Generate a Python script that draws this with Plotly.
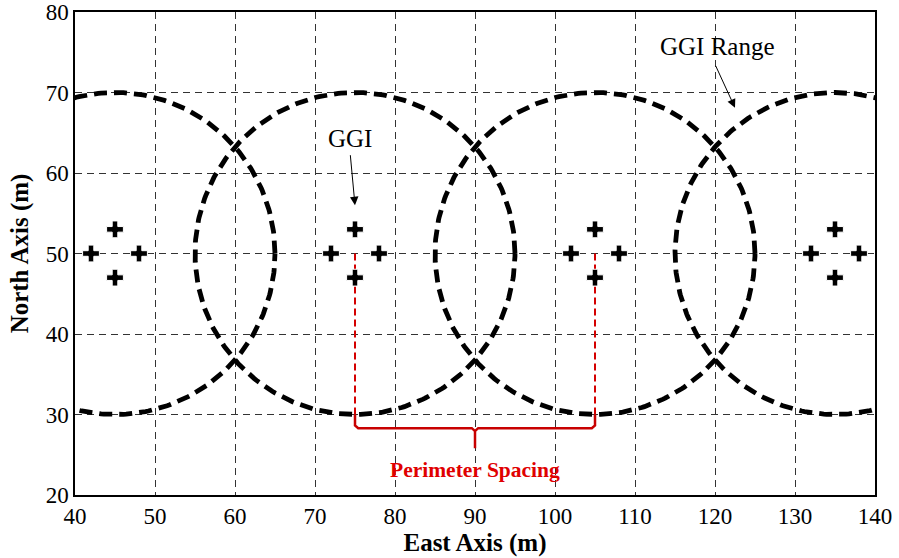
import numpy as np
import plotly.graph_objects as go

# ---- data ----
ggi_centers_x = [45, 75, 105, 135]
ggi_center_y = 50
ggi_range = 20
ggi_offset = 3
spacing_x = [75, 105]
spacing_top = 50
spacing_bottom = 30
brace_y = 28.3
brace_tip_y = 25.8
x_ticks = [40, 50, 60, 70, 80, 90, 100, 110, 120, 130, 140]
y_ticks = [20, 30, 40, 50, 60, 70, 80]

FONT = "Liberation Serif, Times New Roman, serif"
fig = go.Figure()

# GGI range circles
theta = np.linspace(0, 2 * np.pi, 361)
for cx in ggi_centers_x:
    fig.add_trace(go.Scatter(
        x=cx + ggi_range * np.cos(theta),
        y=ggi_center_y + ggi_range * np.sin(theta),
        mode="lines",
        line=dict(color="black", width=4.8, dash="13px,7px"),
        hoverinfo="skip", showlegend=False))

# red spacing lines
for sx in spacing_x:
    fig.add_trace(go.Scatter(
        x=[sx, sx], y=[spacing_top, spacing_bottom],
        mode="lines",
        line=dict(color="#d40000", width=2, dash="7px,4px"),
        hoverinfo="skip", showlegend=False))

# brace
mid = (spacing_x[0] + spacing_x[1]) / 2
bx = [spacing_x[0], spacing_x[0], spacing_x[0] + 0.4, mid - 0.4, mid, mid,
      mid, mid + 0.4, spacing_x[1] - 0.4, spacing_x[1], spacing_x[1]]
by = [spacing_bottom, brace_y + 0.35, brace_y, brace_y, brace_y - 0.35, brace_tip_y,
      brace_y - 0.35, brace_y, brace_y, brace_y + 0.35, spacing_bottom]
fig.add_trace(go.Scatter(
    x=bx, y=by, mode="lines",
    line=dict(color="#c80000", width=2.5),
    hoverinfo="skip", showlegend=False))

# GGI markers
gx, gy = [], []
for cx in ggi_centers_x:
    gx += [cx - ggi_offset, cx + ggi_offset, cx, cx]
    gy += [ggi_center_y, ggi_center_y, ggi_center_y + ggi_offset, ggi_center_y - ggi_offset]
fig.add_trace(go.Scatter(
    x=gx, y=gy, mode="markers",
    marker=dict(symbol="cross", size=14, color="black",
                line=dict(color="white", width=1)),
    cliponaxis=False, hoverinfo="skip", showlegend=False))

# annotations
fig.add_annotation(x=75, y=56.0, ax=74.4, ay=62.4, xref="x", yref="y",
                   axref="x", ayref="y", text="", showarrow=True,
                   arrowhead=2, arrowsize=1.7, arrowwidth=1, arrowcolor="black")
fig.add_annotation(x=74.4, y=64.3, text="GGI", showarrow=False,
                   font=dict(family=FONT, size=25, color="black"))
fig.add_annotation(x=122.5, y=68.1, ax=120.0, ay=73.5, xref="x", yref="y",
                   axref="x", ayref="y", text="", showarrow=True,
                   arrowhead=2, arrowsize=1.7, arrowwidth=1, arrowcolor="black")
fig.add_annotation(x=120.3, y=75.7, text="GGI Range", showarrow=False,
                   font=dict(family=FONT, size=25, color="black"))
fig.add_annotation(x=mid, y=23.1, text="<b>Perimeter Spacing</b>", showarrow=False,
                   font=dict(family=FONT, size=21.5, color="#e00000"))

grid = dict(showgrid=True, gridcolor="#333", gridwidth=1, griddash="7px,5px",
            showline=True, linecolor="black", linewidth=1.5, mirror=True,
            ticks="", zeroline=False, automargin=False,
            tickfont=dict(family=FONT, size=23, color="black"))

fig.update_xaxes(range=[40, 140], tickvals=x_ticks, **grid,
                 title=dict(text="<b>East Axis (m)</b>", standoff=2,
                            font=dict(family=FONT, size=25, color="black")))
fig.update_yaxes(range=[20, 80], tickvals=y_ticks, **grid,
                 title=dict(text="<b>North Axis (m)</b>", standoff=10,
                            font=dict(family=FONT, size=25, color="black")))

fig.update_layout(
    width=899, height=558,
    margin=dict(l=75, r=24, t=12, b=63),
    plot_bgcolor="white", paper_bgcolor="white",
    showlegend=False,
)

fig.write_html("out.html")
